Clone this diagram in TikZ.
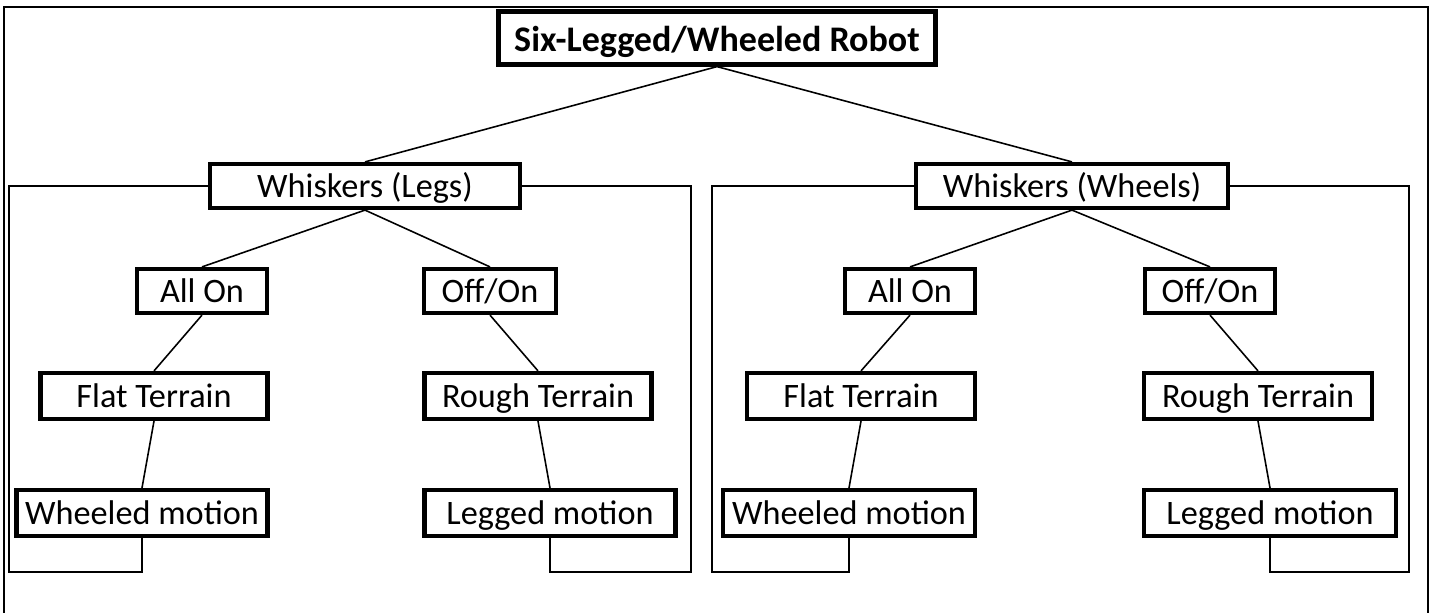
\documentclass[tikz,border=0pt]{standalone}
\usepackage{fontspec}
\setmainfont{Carlito}
\usepackage{tikz}
\usetikzlibrary{arrows.meta,positioning}

\begin{document}
\begin{tikzpicture}[x=0.02cm,y=-0.02cm,
tbox/.style={draw,line width=2.4pt,fill=white,inner sep=0pt,minimum height=0.92cm,text height=14.5pt,text depth=1pt,font=\fontsize{19.5}{23}\selectfont},
link/.style={line width=0.9pt},
grp/.style={line width=0.6pt}]
\useasboundingbox(0,0)rectangle(1432,612);
\draw[line width=1.6pt](4,7)rectangle(1428,618);
% tree boxes
\draw(717,38)node[tbox,minimum width=8.74cm,minimum height=1.06cm,text height=16.4pt,font=\fontsize{20.5}{24}\selectfont\bfseries](top){Six-Legged/Wheeled Robot}
(365,186)node[tbox,minimum width=6.2cm,minimum height=0.88cm](wl){Whiskers (Legs)}
(1072,186)node[tbox,minimum width=6.24cm,minimum height=0.88cm](ww){Whiskers (Wheels)};
\draw(202,291)node[tbox,minimum width=2.6cm,minimum height=0.88cm](on1){All On}
(490,291)node[tbox,minimum width=2.64cm,minimum height=0.88cm](oo1){Off/On}
(910,291)node[tbox,minimum width=2.6cm,minimum height=0.88cm](on2){All On}
(1210,291)node[tbox,minimum width=2.6cm,minimum height=0.88cm](oo2){Off/On};
\draw(154,396)node[tbox,minimum width=4.54cm](ft1){Flat Terrain}
(538,396)node[tbox,minimum width=4.54cm](rt1){Rough Terrain}
(861,396)node[tbox,minimum width=4.56cm](ft2){Flat Terrain}
(1258,396)node[tbox,minimum width=4.56cm](rt2){Rough Terrain};
\draw(142,513)node[tbox,minimum width=5.02cm](wm1){Wheeled motion}
(550,513)node[tbox,minimum width=5.02cm](lm1){Legged motion}
(849,513)node[tbox,minimum width=5.04cm](wm2){Wheeled motion}
(1270,513)node[tbox,minimum width=5.04cm](lm2){Legged motion};
% links
\draw[link](top.south)--(wl.north);
\draw[link](top.south)--(ww.north);
\draw[link](wl.south)--(on1.north);
\draw[link](wl.south)--(oo1.north);
\draw[link](ww.south)--(on2.north);
\draw[link](ww.south)--(oo2.north);
\draw[link](on1.south)--(ft1.north);
\draw[link](oo1.south)--(rt1.north);
\draw[link](on2.south)--(ft2.north);
\draw[link](oo2.south)--(rt2.north);
\draw[link](ft1.south)--(wm1.north);
\draw[link](rt1.south)--(lm1.north);
\draw[link](ft2.south)--(wm2.north);
\draw[link](rt2.south)--(lm2.north);
% group frames
\coordinate(g1tl)at(9,186);
\coordinate(g1bl)at(9,572);
\coordinate(g1tr)at(691,186);
\coordinate(g1br)at(691,572);
\coordinate(g2tl)at(712,186);
\coordinate(g2bl)at(712,572);
\coordinate(g2tr)at(1409,186);
\coordinate(g2br)at(1409,572);
\draw[grp](wm1.south)|-(g1bl)--(g1tl)--(wl.west);
\draw[grp](wl.east)--(g1tr)--(g1br)-|(lm1.south);
\draw[grp](wm2.south)|-(g2bl)--(g2tl)--(ww.west);
\draw[grp](ww.east)--(g2tr)--(g2br)-|(lm2.south);
\end{tikzpicture}
\end{document}
